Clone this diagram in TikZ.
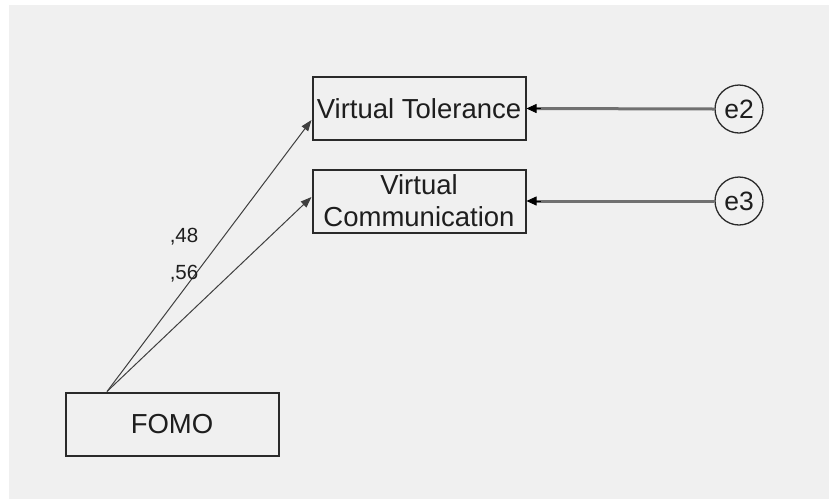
\documentclass[tikz,border=0pt]{standalone}
\usepackage{fontspec}
\setmainfont{Liberation Sans}
\usetikzlibrary{arrows.meta,calc}
\definecolor{bggray}{HTML}{F0F0F0}
\definecolor{boxline}{HTML}{2A2A2A}
\definecolor{txt}{HTML}{1E1E1E}
\definecolor{errline}{HTML}{707070}
\tikzset{
  varbox/.style={draw=boxline, line width=2pt, minimum width=213pt, minimum height=63pt,
    inner sep=0pt, align=center, text=txt, font=\fontsize{27.5}{32}\selectfont},
  errcirc/.style={draw=boxline, line width=1.3pt, circle, minimum size=48pt, inner sep=0pt,
    text=txt, font=\fontsize{26.5}{30}\selectfont},
  patharrow/.style={draw=boxline!90, line width=1pt, -{Triangle[length=11pt,width=8pt]}},
  errshaft/.style={draw=errline, line width=3pt, shorten >=8pt},
  errhead/.style={draw=black, line width=0.8pt, -{Triangle[length=10pt,width=9pt]}},
  coef/.style={text=txt, font=\fontsize{20.5}{24}\selectfont, inner sep=0pt}
}
\begin{document}
\begin{tikzpicture}[x=1pt,y=-1pt]
\useasboundingbox (0,0) rectangle (829,499);
\fill[white] (0,0) rectangle (829,499);
\fill[bggray] (9,5) rectangle (829,499);
\node[varbox] (vt) at (419,108.5) {Virtual Tolerance};
\node[varbox] (vc) at (419,201) {Virtual\\Communication};
\node[varbox] (fomo) at (172,424) {FOMO};
\node[errcirc] (e2) at (739,109) {e2};
\node[errcirc] (e3) at (739,201) {e3};
\coordinate (fs) at ($(fomo.north west)+(42.5,0)$);
\coordinate (vtin) at ($(vt.west)+(0,11.5)$);
\coordinate (vcin) at ($(vc.west)+(0,-4)$);
\draw[patharrow] (fs) -- (vtin);
\draw[patharrow] (fs) -- (vcin);
\draw[errshaft] (e2.west) -- (vt.east);
\draw[errhead] ($(vt.east)+(14,0)$) -- (vt.east);
\draw[errshaft] (e3.west) -- (vc.east);
\draw[errhead] ($(vc.east)+(14,0)$) -- (vc.east);
\node[coef] (c48) at (184,237) {,48};
\node[coef] (c56) at (184,274) {,56};
\end{tikzpicture}
\end{document}
